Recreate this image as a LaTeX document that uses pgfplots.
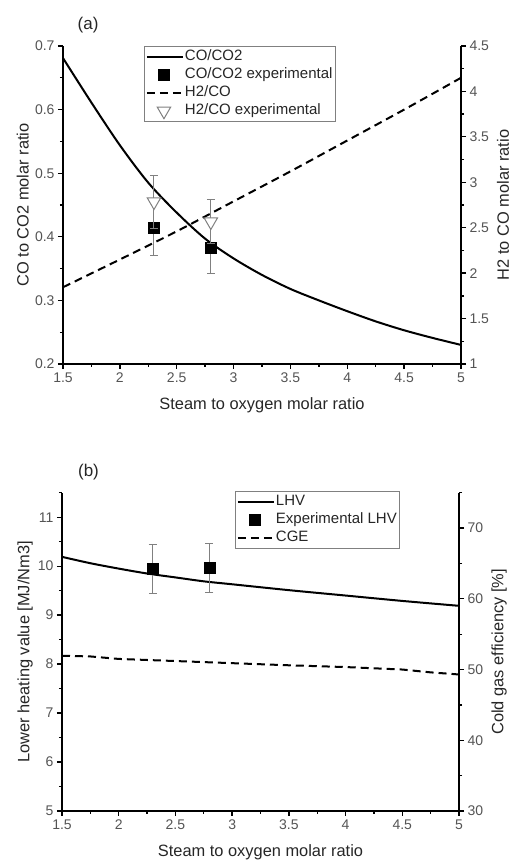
\documentclass[border=0pt]{standalone}
\usepackage{pgfplots}
\pgfplotsset{compat=1.18}
\usepackage{fontspec}
\setmainfont{Liberation Sans}

\definecolor{tickgray}{gray}{0.33}
\definecolor{errgray}{gray}{0.5}
\definecolor{framegray}{gray}{0.5}

\pgfplotsset{
  panel/.style={
    scale only axis,
    xmin=1.5, xmax=5,
    xtick={1.5,2,2.5,3,3.5,4,4.5,5},
    minor xtick={1.75,2.25,2.75,3.25,3.75,4.25,4.75},
    tick align=outside,
    major tick length=5bp,
    minor tick length=3bp,
    every tick/.style={black, line width=1.3bp},
    axis line style={black, line width=2bp},
    ticklabel style={font=\fontsize{14bp}{16bp}\selectfont, text=tickgray},
    /pgf/number format/assume math mode=true,
    label style={font=\fontsize{16.4bp}{19bp}\selectfont, text=black!85},
    clip=false,
  },
  legsolid/.style={legend image code/.code={\draw[black, line width=2bp] (0bp,0bp) -- (36bp,0bp);}},
  legdash/.style={legend image code/.code={\draw[black, line width=2bp, dash pattern=on 8bp off 5bp] (0bp,0bp) -- (36bp,0bp);}},
  legsquare/.style={legend image code/.code={\draw[black, mark=square*, mark size=5.5bp] plot coordinates {(17bp,0bp)};}},
  legtri/.style={legend image code/.code={\draw[errgray, line width=1bp, mark=triangle*, mark size=7.8bp, mark options={rotate=180, fill=white, draw=errgray}] plot coordinates {(17bp,0bp)};}},
  boxlegend/.style={
    legend cell align=left,
    legend style={anchor=north west, draw=framegray, line width=0.9bp, fill=white,
      inner xsep=1.5bp, inner ysep=1.5bp, row sep=0pt, column sep=0pt,
      font=\fontsize{15bp}{18bp}\selectfont,
      nodes={inner xsep=1bp, inner ysep=1bp, text height=11.5bp, text depth=4.5bp, text=black!85}},
  },
  experr/.style={
    error bars/y dir=both, error bars/y explicit,
    error bars/error bar style={errgray, line width=1bp},
    error bars/error mark options={errgray, rotate=90, mark size=4bp, line width=1bp},
  },
}

\begin{document}
\begin{tikzpicture}
\useasboundingbox (0,0) rectangle (511bp,860bp);

% ---------------- (a) molar ratios ----------------
\begin{axis}[panel, at={(63bp,496bp)}, anchor=south west, width=398bp, height=318bp,
  axis x line*=bottom, axis y line*=left,
  ymin=0.2, ymax=0.7, ytick={0.2,0.3,0.4,0.5,0.6,0.7},
  minor ytick={0.25,0.35,0.45,0.55,0.65},
  xlabel={Steam to oxygen molar ratio}, ylabel={CO to CO2 molar ratio},
  xlabel style={at={(axis description cs:0.5,-0.129)}, anchor=center},
  ylabel style={at={(axis description cs:-0.101,0.5)}, anchor=center}]
  \addplot[black, line width=2bp, smooth] coordinates {
    (1.5,0.681) (1.75,0.611) (2.0,0.544) (2.25,0.485) (2.5,0.438) (2.75,0.397)
    (3.0,0.366) (3.25,0.340) (3.5,0.318) (3.75,0.300) (4.0,0.283) (4.25,0.267)
    (4.5,0.253) (4.75,0.241) (5.0,0.230)};
  \addplot[black, only marks, mark=square*, mark size=5.5bp, experr]
    table[x=x, y=y, y error=e] {
      x   y     e
      2.3 0.415 0.044
      2.8 0.383 0.040
    };
  \node[font=\fontsize{17bp}{20bp}\selectfont, text=black!85] at (axis description cs:0.063,1.066) {(a)};
\end{axis}

\begin{axis}[panel, at={(63bp,496bp)}, anchor=south west, width=398bp, height=318bp,
  axis x line=none, axis y line*=right,
  ymin=1, ymax=4.5, ytick={1,1.5,2,2.5,3,3.5,4,4.5},
  minor ytick={1.25,1.75,2.25,2.75,3.25,3.75,4.25},
  ylabel={H2 to CO molar ratio},
  ylabel style={at={(axis description cs:1.1055,0.5)}, anchor=center},
  boxlegend, legend style={at={(0.2035,1)}}]
  \addlegendimage{legsolid}\addlegendentry{CO/CO2}
  \addlegendimage{legsquare}\addlegendentry{CO/CO2 experimental}
  \addlegendimage{legdash}\addlegendentry{H2/CO}
  \addlegendimage{legtri}\addlegendentry{H2/CO experimental}
  \addplot[black, line width=2bp, dash pattern=on 8bp off 5bp, smooth, forget plot] coordinates {
    (1.5,1.845) (2.0,2.15) (2.5,2.46) (3.0,2.79) (3.5,3.12) (4.0,3.46) (4.5,3.80) (5.0,4.15)};
  \addplot[errgray, only marks, mark=triangle*, mark size=7.8bp, forget plot,
    mark options={rotate=180, fill=white, draw=errgray, line width=1bp}, experr]
    table[x=x, y=y, y error=e] {
      x   y     e
      2.3 2.786 0.29
      2.8 2.566 0.245
    };
\end{axis}

% ---------------- (b) heating value and efficiency ----------------
\begin{axis}[panel, at={(62bp,49bp)}, anchor=south west, width=397bp, height=318.3bp,
  axis x line*=bottom, axis y line*=left,
  ymin=5, ymax=11.5, ytick={5,6,7,8,9,10,11},
  minor ytick={5.5,6.5,7.5,8.5,9.5,10.5,11.5},
  xlabel={Steam to oxygen molar ratio}, ylabel={Lower heating value [MJ/Nm3]},
  xlabel style={at={(axis description cs:0.5,-0.131)}, anchor=center},
  ylabel style={at={(axis description cs:-0.093,0.5)}, anchor=center}]
  \addplot[black, line width=2bp, smooth] coordinates {
    (1.5,10.19) (1.75,10.06) (2.0,9.95) (2.25,9.85) (2.5,9.77) (2.75,9.69)
    (3.0,9.63) (3.5,9.51) (4.0,9.40) (4.5,9.29) (5.0,9.19)};
  \addplot[black, only marks, mark=square*, mark size=5.5bp, experr]
    table[x=x, y=y, y error=e] {
      x   y    e
      2.3 9.94 0.50
      2.8 9.96 0.50
    };
  \node[font=\fontsize{17bp}{20bp}\selectfont, text=black!85] at (axis description cs:0.0668,1.066) {(b)};
\end{axis}

\begin{axis}[panel, at={(62bp,49bp)}, anchor=south west, width=397bp, height=318.3bp,
  axis x line=none, axis y line*=right,
  ymin=30, ymax=75, ytick={30,40,50,60,70},
  minor ytick={35,45,55,65,75},
  ylabel={Cold gas efficiency [\%]},
  ylabel style={at={(axis description cs:1.1008,0.5)}, anchor=center},
  boxlegend, legend style={at={(0.4358,1.005)}}]
  \addlegendimage{legsolid}\addlegendentry{LHV}
  \addlegendimage{legsquare}\addlegendentry{Experimental LHV}
  \addlegendimage{legdash}\addlegendentry{CGE}
  \addplot[black, line width=2bp, dash pattern=on 8bp off 5bp, forget plot] coordinates {
    (1.5,51.95) (1.75,51.85) (2.0,51.5) (2.5,51.2) (3.0,50.9) (3.5,50.6)
    (4.0,50.35) (4.5,50.0) (4.75,49.6) (5.0,49.3)};
\end{axis}
\end{tikzpicture}
\end{document}
